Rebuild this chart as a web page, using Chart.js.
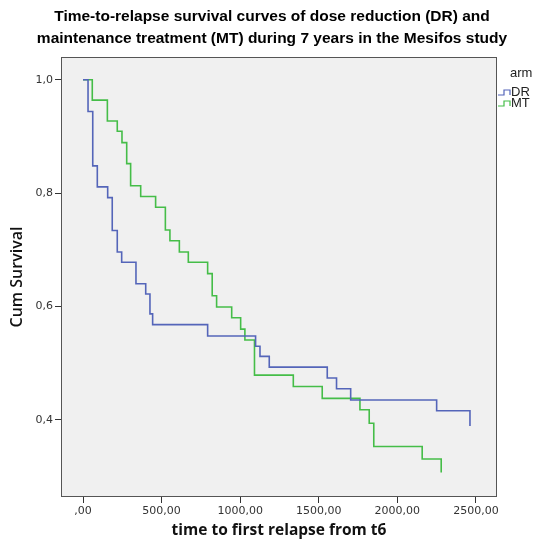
<!DOCTYPE html>
<html>
<head>
<meta charset="utf-8">
<script src="https://cdn.jsdelivr.net/npm/chart.js@4"></script>
<style>
  html, body { margin: 0; padding: 0; background: #fff; }
  #wrap { width: 544px; height: 543px; }
</style>
</head>
<body>
<div id="wrap"><canvas id="survivalChart"></canvas></div>
<script>
// данные кривых (время события, кумулятивная выживаемость после события)
const drTimes = [0, 32, 62, 91, 157, 186, 218, 246, 337, 399, 426, 443, 793, 1098, 1126, 1185, 1554, 1613, 1703, 2250, 2462];
const drSurvival = [1.0, 0.944, 0.848, 0.811, 0.792, 0.734, 0.696, 0.678, 0.640, 0.622, 0.587, 0.568, 0.548, 0.530, 0.512, 0.493, 0.474, 0.455, 0.435, 0.416, 0.389];

const mtTimes = [0, 59, 155, 218, 248, 278, 303, 367, 462, 524, 553, 613, 670, 793, 822, 850, 946, 1003, 1030, 1091, 1338, 1522, 1762, 1821, 1850, 2158, 2279];
const mtSurvival = [1.0, 0.964, 0.927, 0.909, 0.889, 0.852, 0.813, 0.794, 0.775, 0.735, 0.716, 0.696, 0.678, 0.658, 0.619, 0.599, 0.580, 0.560, 0.541, 0.479, 0.459, 0.438, 0.418, 0.394, 0.353, 0.331, 0.307];

const armNames = ["DR", "MT"];
const xTicks = [0, 500, 1000, 1500, 2000, 2500];
const xTickLabels = [",00", "500,00", "1000,00", "1500,00", "2000,00", "2500,00"];
const yTicks = [0.4, 0.6, 0.8, 1.0];
const yTickLabels = ["0,4", "0,6", "0,8", "1,0"];

const titleLines = [
    "Time-to-relapse survival curves of dose reduction (DR) and",
    "maintenance treatment (MT) during 7 years in the Mesifos study"
];

const colors = ["#5465b9", "#45bd48"];

function toPoints(times, values) {
    return times.map((t, i) => ({ x: t, y: values[i] }));
}

// фон и рамка области графика
const plotBox = {
    id: 'plotBox',
    beforeDatasetsDraw(chart) {
        const { ctx, chartArea: a } = chart;
        ctx.save();
        ctx.fillStyle = '#f0f0f0';
        ctx.fillRect(a.left, a.top, a.right - a.left, a.bottom - a.top);
        ctx.restore();
    },
    afterDatasetsDraw(chart) {
        const { ctx, chartArea: a } = chart;
        ctx.save();
        ctx.strokeStyle = '#555';
        ctx.lineWidth = 1;
        ctx.strokeRect(a.left + 0.5, a.top + 0.5, a.right - a.left - 1, a.bottom - a.top - 1);
        ctx.restore();
    }
};

// легенда справа от графика
const armLegend = {
    id: 'armLegend',
    afterDraw(chart) {
        const { ctx, chartArea: a } = chart;
        ctx.save();
        ctx.font = '13px "Liberation Sans", Arial, sans-serif';
        ctx.fillStyle = '#222';
        ctx.textBaseline = 'middle';
        ctx.fillText('arm', a.right + 13, a.top + 16);
        armNames.forEach((name, i) => {
            const y = a.top + 35 + i * 11;
            const x0 = a.right + 1;
            ctx.strokeStyle = colors[i];
            ctx.lineWidth = 1.2;
            ctx.beginPath();
            ctx.moveTo(x0, y + 3);
            ctx.lineTo(x0 + 6, y + 3);
            ctx.lineTo(x0 + 6, y - 2);
            ctx.lineTo(x0 + 12, y - 2);
            ctx.lineTo(x0 + 12, y + 3);
            ctx.stroke();
            ctx.fillStyle = '#222';
            ctx.fillText(name, x0 + 13, y);
        });
        ctx.restore();
    }
};

const ctx = document.getElementById('survivalChart').getContext('2d');

new Chart(ctx, {
    type: 'line',
    data: {
        datasets: [
            {
                label: armNames[0],
                data: toPoints(drTimes, drSurvival),
                borderColor: colors[0],
                borderWidth: 1.6,
                stepped: true,
                pointRadius: 0,
                fill: false
            },
            {
                label: armNames[1],
                data: toPoints(mtTimes, mtSurvival),
                borderColor: colors[1],
                borderWidth: 1.6,
                stepped: true,
                pointRadius: 0,
                fill: false
            }
        ]
    },
    options: {
        responsive: true,
        maintainAspectRatio: false,
        animation: false,
        layout: { padding: 0 },
        scales: {
            x: {
                type: 'linear',
                min: -140,
                max: 2634,
                afterBuildTicks: (scale) => { scale.ticks = xTicks.map(v => ({ value: v })); },
                afterFit: (scale) => { scale.height = 46; },
                ticks: {
                    callback: (v) => xTickLabels[xTicks.indexOf(v)],
                    font: { family: '"DejaVu Sans", sans-serif', size: 11 },
                    color: '#333',
                    padding: 2,
                    maxRotation: 0,
                    autoSkip: false
                },
                grid: {
                    drawOnChartArea: false,
                    drawTicks: true,
                    tickLength: 6,
                    color: '#333'
                },
                border: { display: false },
                title: {
                    display: true,
                    text: 'time to first relapse from t6',
                    font: { family: '"Open Sans", sans-serif', size: 15.5, weight: 'bold' },
                    color: '#111',
                    padding: { top: 0, bottom: 3 }
                }
            },
            y: {
                type: 'linear',
                min: 0.264,
                max: 1.04,
                afterBuildTicks: (scale) => { scale.ticks = yTicks.map(v => ({ value: v })); },
                afterFit: (scale) => { scale.width = 61; },
                ticks: {
                    callback: (v) => yTickLabels[yTicks.indexOf(v)],
                    font: { family: '"DejaVu Sans", sans-serif', size: 11 },
                    color: '#333',
                    padding: 2,
                    autoSkip: false
                },
                grid: {
                    drawOnChartArea: false,
                    drawTicks: true,
                    tickLength: 6,
                    color: '#333'
                },
                border: { display: false },
                title: {
                    display: true,
                    text: 'Cum Survival',
                    font: { family: '"Open Sans", sans-serif', size: 16, weight: '600' },
                    color: '#111',
                    padding: { top: 8, bottom: 0 }
                }
            },
            // пустая ось справа — место под легенду
            yRight: {
                type: 'linear',
                position: 'right',
                min: 0.264,
                max: 1.04,
                afterFit: (scale) => { scale.width = 47; },
                ticks: { display: false },
                grid: { display: false },
                border: { display: false }
            }
        },
        plugins: {
            legend: { display: false },
            tooltip: { enabled: false },
            title: {
                display: true,
                text: titleLines,
                font: { family: '"Liberation Sans", Arial, sans-serif', size: 15.5, weight: 'bold', lineHeight: 22 / 15.5 },
                color: '#000',
                padding: { top: 6, bottom: 7 }
            }
        }
    },
    plugins: [plotBox, armLegend]
});
</script>
</body>
</html>
